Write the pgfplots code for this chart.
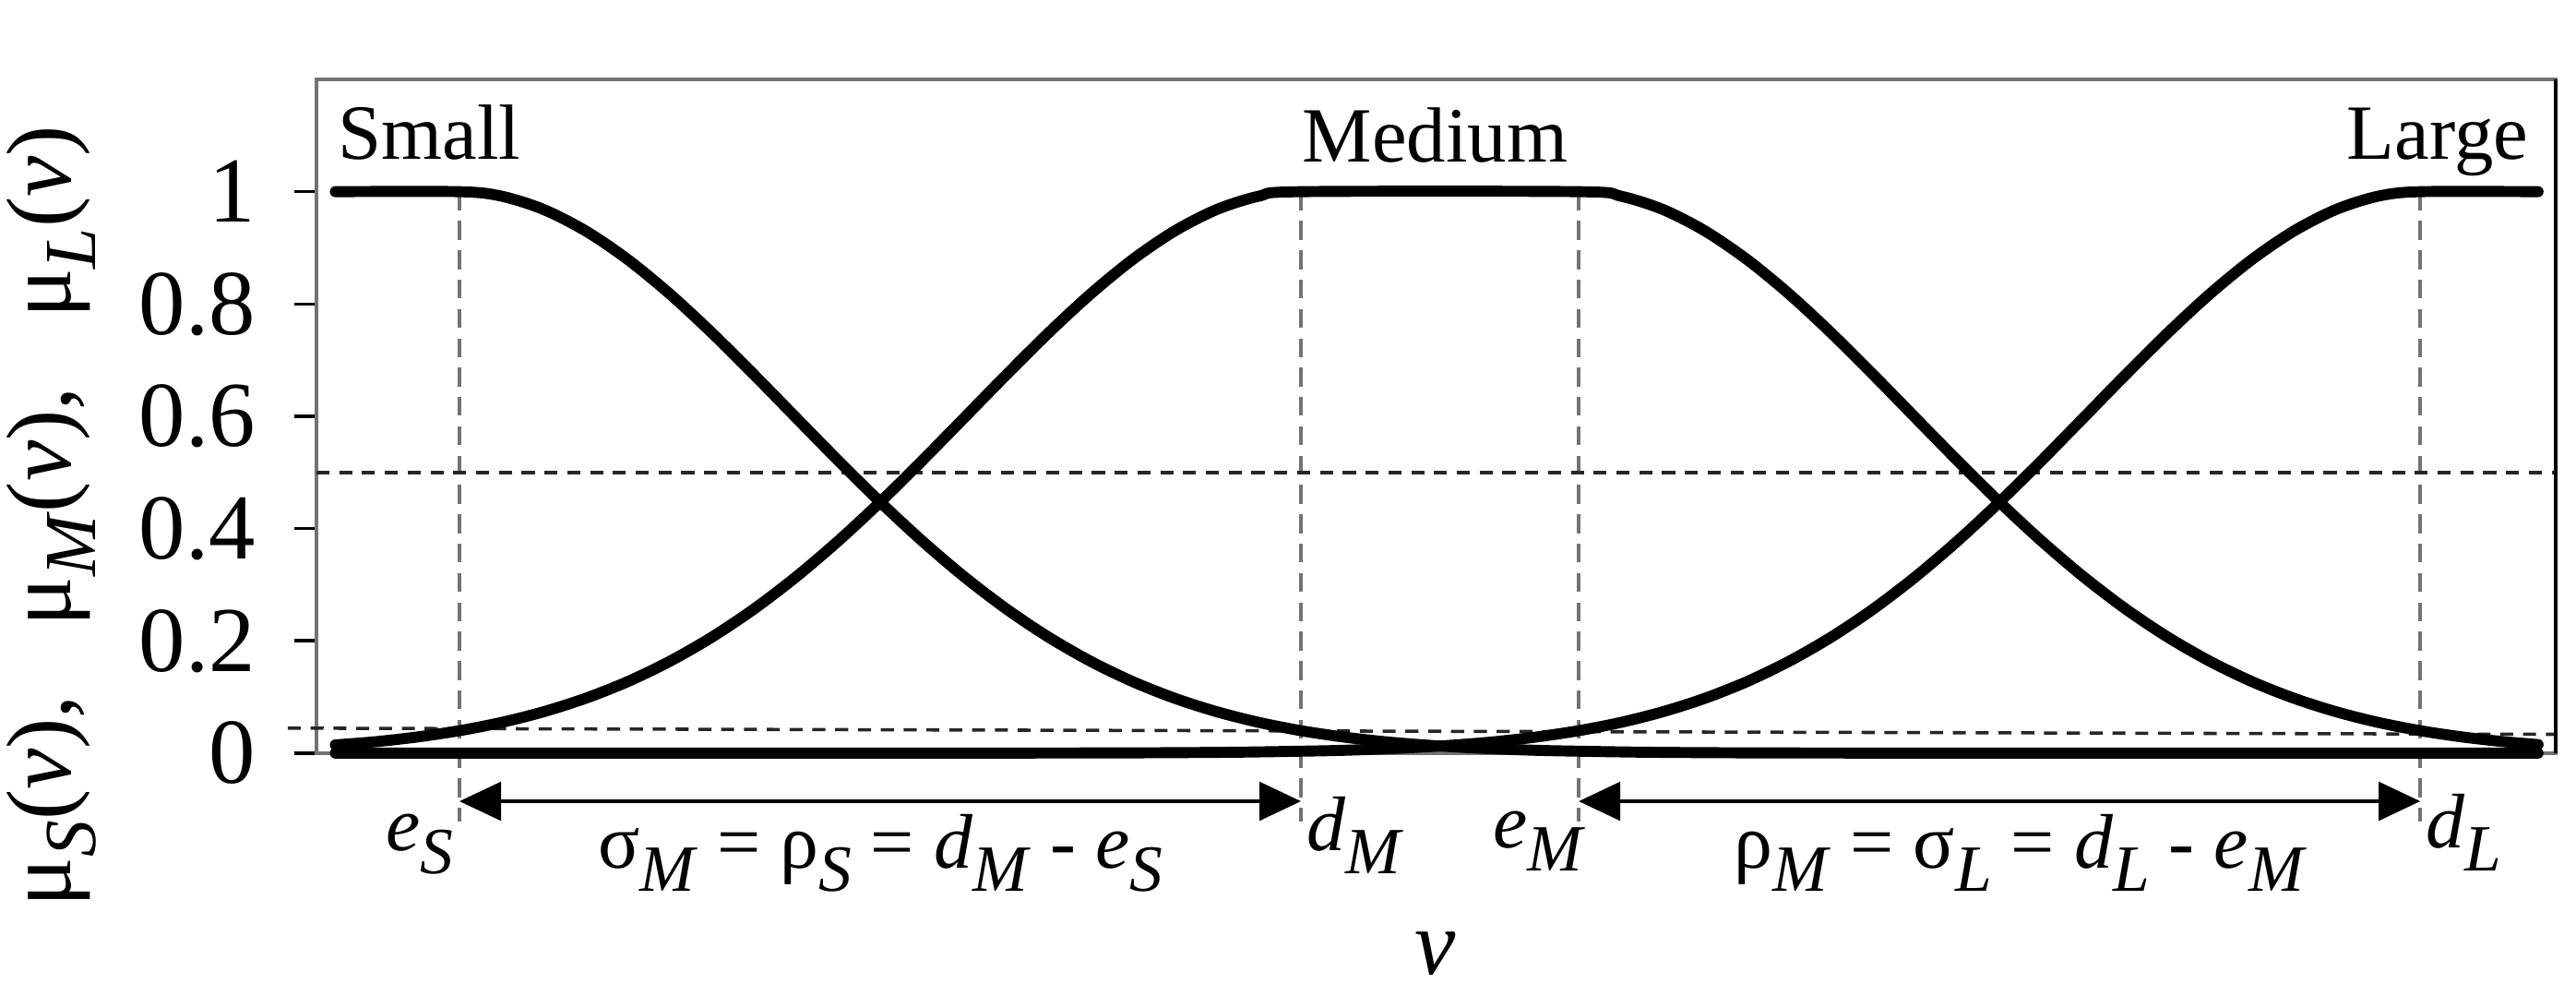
\documentclass[border=0pt]{standalone}
\usepackage{pgfplots}
\pgfplotsset{compat=1.18}
\usepackage{fontspec}
\setmainfont{Liberation Serif}
\usetikzlibrary{arrows.meta}
% subscript: large, lowered (as in the reference)
\newcommand\sub[1]{\raisebox{-0.3em}{\fontsize{8.1}{9}\selectfont\textit{#1}}}
\newcommand\ysub[1]{\raisebox{-0.27em}{\fontsize{9}{10}\selectfont\textit{#1}}}
\begin{document}
\begin{tikzpicture}
\begin{axis}[
  scale only axis=true,
  width=274.9pt, height=82.67pt,
  xmin=-3.4, xmax=49.82, ymin=0, ymax=1.2,
  clip=false,
  xtick=\empty,
  ytick={0,0.2,0.4,0.6,0.8,1},
  yticklabels={0,0.2,0.4,0.6,0.8,1},
  tick align=outside,
  ytick pos=left,
  major tick length=2.7pt,
  tick style={black, line width=0.4pt},
  yticklabel style={font=\fontsize{11.4}{13}\selectfont, inner sep=0pt, xshift=-4.6pt},
  /pgf/number format/assume math mode=true,
  axis line style={draw=black!55, line width=0.5pt},
]
\coordinate (SW) at (rel axis cs:0,0);
\coordinate (NE) at (rel axis cs:1,1);
% reference dashed lines
\addplot[black!55, line width=0.45pt, dash pattern=on 2.3pt off 1.3pt] coordinates {(0,1) (0,-0.122)};
\addplot[black!55, line width=0.45pt, dash pattern=on 2.3pt off 1.3pt] coordinates {(20,1) (20,-0.122)};
\addplot[black!55, line width=0.45pt, dash pattern=on 2.3pt off 1.3pt] coordinates {(26.6,1) (26.6,-0.122)};
\addplot[black!55, line width=0.45pt, dash pattern=on 2.3pt off 1.3pt] coordinates {(46.6,1) (46.6,-0.122)};
\addplot[black!85, line width=0.4pt, dash pattern=on 1.6pt off 1.2pt] coordinates {(-3.4,0.5) (49.82,0.5)};
\addplot[black!85, line width=0.4pt, dash pattern=on 1.6pt off 1.2pt] coordinates {(-4.08,0.0445) (49.82,0.0335)};
% right border in black
\draw[black, line width=0.4pt] (rel axis cs:1,0) -- (rel axis cs:1,1);
% arrows
\addplot[black, line width=0.45pt, {Triangle[length=5.1pt,width=4.7pt]}-{Triangle[length=5.1pt,width=4.7pt]}] coordinates {(0,-0.0857) (20,-0.0857)};
\addplot[black, line width=0.45pt, {Triangle[length=5.1pt,width=4.7pt]}-{Triangle[length=5.1pt,width=4.7pt]}] coordinates {(26.6,-0.0857) (46.6,-0.0857)};
% Small
\addplot[black, line width=1.35pt, line cap=round, line join=round, smooth] coordinates {
(-2.95,1) (0,1) (1,0.9920) (2,0.9683) (3,0.9301) (4,0.8792) (5,0.8178) (6,0.7485) (7,0.6741) (8,0.5975) (9,0.5211) (10,0.4472) (11,0.3777) (12,0.3139) (13,0.2567) (14,0.2066) (15,0.1636) (16,0.1274) (17,0.0977) (18,0.0737) (19,0.0547) (20,0.0400) (21,0.0288) (22,0.0203) (23,0.0142) (24,0.0097) (25,0.0065) (26,0.0043) (28,0.0018) (30,0.0007) (32,0.0003) (36,0) (49.4,0)};
% Medium
\addplot[black, line width=1.35pt, line cap=round, line join=round, smooth] coordinates {
(-2.95,0.0147) (-2,0.0203) (-1,0.0288) (0,0.0400) (1,0.0547) (2,0.0737) (3,0.0977) (4,0.1274) (5,0.1636) (6,0.2066) (7,0.2567) (8,0.3139) (9,0.3777) (10,0.4472) (11,0.5211) (12,0.5975) (13,0.6741) (14,0.7485) (15,0.8178) (16,0.8792) (17,0.9301) (18,0.9683) (19,0.9920) (20,1) (26.6,1)
(27.6,0.9920) (28.6,0.9683) (29.6,0.9301) (30.6,0.8792) (31.6,0.8178) (32.6,0.7485) (33.6,0.6741) (34.6,0.5975) (35.6,0.5211) (36.6,0.4472) (37.6,0.3777) (38.6,0.3139) (39.6,0.2567) (40.6,0.2066) (41.6,0.1636) (42.6,0.1274) (43.6,0.0977) (44.6,0.0737) (45.6,0.0547) (46.6,0.0400) (47.6,0.0288) (48.6,0.0203) (49.4,0.0153)};
% Large
\addplot[black, line width=1.35pt, line cap=round, line join=round, smooth] coordinates {
(-2.95,0) (10.6,0) (14.6,0.0003) (16.6,0.0007) (18.6,0.0018) (20.6,0.0043) (21.6,0.0065) (22.6,0.0097) (23.6,0.0142) (24.6,0.0203) (25.6,0.0288) (26.6,0.0400) (27.6,0.0547) (28.6,0.0737) (29.6,0.0977) (30.6,0.1274) (31.6,0.1636) (32.6,0.2066) (33.6,0.2567) (34.6,0.3139) (35.6,0.3777) (36.6,0.4472) (37.6,0.5211) (38.6,0.5975) (39.6,0.6741) (40.6,0.7485) (41.6,0.8178) (42.6,0.8792) (43.6,0.9301) (44.6,0.9683) (45.6,0.9920) (46.6,1) (49.4,1)};
% curve names
\node[anchor=base west, inner sep=0pt, font=\fontsize{9.6}{11}\selectfont] at (axis cs:-2.92,1.058) {Small};
\node[anchor=base west, inner sep=0pt, font=\fontsize{9.6}{11}\selectfont] at (axis cs:20.0,1.053) {Medium};
\node[anchor=base east, inner sep=0pt, font=\fontsize{9.6}{11}\selectfont] at (axis cs:49.2,1.058) {Large};
% bottom labels
\node[anchor=base east, inner sep=0pt, font=\fontsize{9.5}{11}\selectfont] at (axis cs:-0.1,-0.174) {\textit{e}\sub{S}};
\node[anchor=base west, inner sep=0pt, font=\fontsize{9.5}{11}\selectfont] at (axis cs:20.1,-0.174) {\textit{d}\sub{M}};
\node[anchor=base east, inner sep=0pt, font=\fontsize{9.5}{11}\selectfont] at (axis cs:26.8,-0.168) {\textit{e}\sub{M}};
\node[anchor=base west, inner sep=0pt, font=\fontsize{9.5}{11}\selectfont] at (axis cs:46.7,-0.168) {\textit{d}\sub{L}};
\node[anchor=base, inner sep=0pt, font=\fontsize{9.5}{11}\selectfont] at (axis cs:10,-0.205) {σ\sub{M} = ρ\sub{S} = \textit{d}\sub{M} - \textit{e}\sub{S}};
\node[anchor=base, inner sep=0pt, font=\fontsize{9.5}{11}\selectfont] at (axis cs:37.1,-0.205) {ρ\sub{M} = σ\sub{L} = \textit{d}\sub{L} - \textit{e}\sub{M}};
\node[anchor=base, inner sep=0pt, font=\fontsize{11.3}{13}\selectfont] at (axis cs:23.2,-0.394) {\textit{v}};
% y label
\node[rotate=90, anchor=center, inner sep=0pt, font=\fontsize{11.3}{13}\selectfont] at (axis cs:-9.69,0.422) {μ\ysub{S}(\textit{v}),\hspace{0.75em}μ\ysub{M}(\textit{v}),\hspace{0.75em}μ\ysub{L}(\textit{v})};
\end{axis}
\pgfresetboundingbox
\path ([xshift=-38.84pt,yshift=-28.31pt]SW) rectangle ([xshift=2.49pt,yshift=9.74pt]NE);
\end{tikzpicture}
\end{document}
